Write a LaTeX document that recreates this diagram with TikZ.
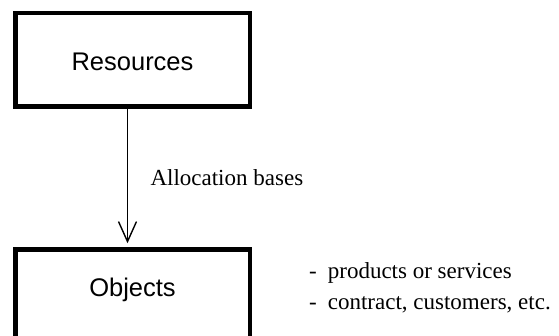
\documentclass[tikz,border=0pt]{standalone}
\usepackage{fontspec}
\setmainfont{Liberation Serif}
\setsansfont{Liberation Sans}
\usetikzlibrary{arrows.meta}
\tikzset{
  box/.style={draw, line width=4.5pt, inner sep=0pt, minimum width=234.5pt,
    font=\sffamily\fontsize{25.5}{30}\selectfont},
  flow/.style={line width=1.4pt, shorten >=4pt,
    -{Straight Barb[length=20pt,width=18pt,line width=1.4pt]}},
  note/.style={inner sep=0pt, align=left, font=\fontsize{23}{31}\selectfont}
}

\begin{document}
\begin{tikzpicture}[x=1pt,y=1pt]
  \useasboundingbox (0,0) rectangle (559,336);
  \clip (0,0) rectangle (559,336);
  % top box
  \node[box, minimum height=93.5pt, text height=25pt, text depth=3pt] (res) at (132.5,276) {Resources};
  % lower box, open at the bottom edge of the page
  \node[box, anchor=north, text height=47.5pt, text depth=60pt] (obj) at (132.5,88.75) {Objects};
  % allocation arrow
  \draw[flow] ([xshift=-5pt]res.south) -- ([xshift=-5pt]obj.north)
    node[midway, right, xshift=19pt, font=\fontsize{23}{28}\selectfont] (alloc) {Allocation bases};
  % list of object kinds
  \node[note, anchor=west] (kinds) at (309,48.5)
    {-\hspace{11pt}products or services\\-\hspace{11pt}contract, customers, etc.};
\end{tikzpicture}
\end{document}
